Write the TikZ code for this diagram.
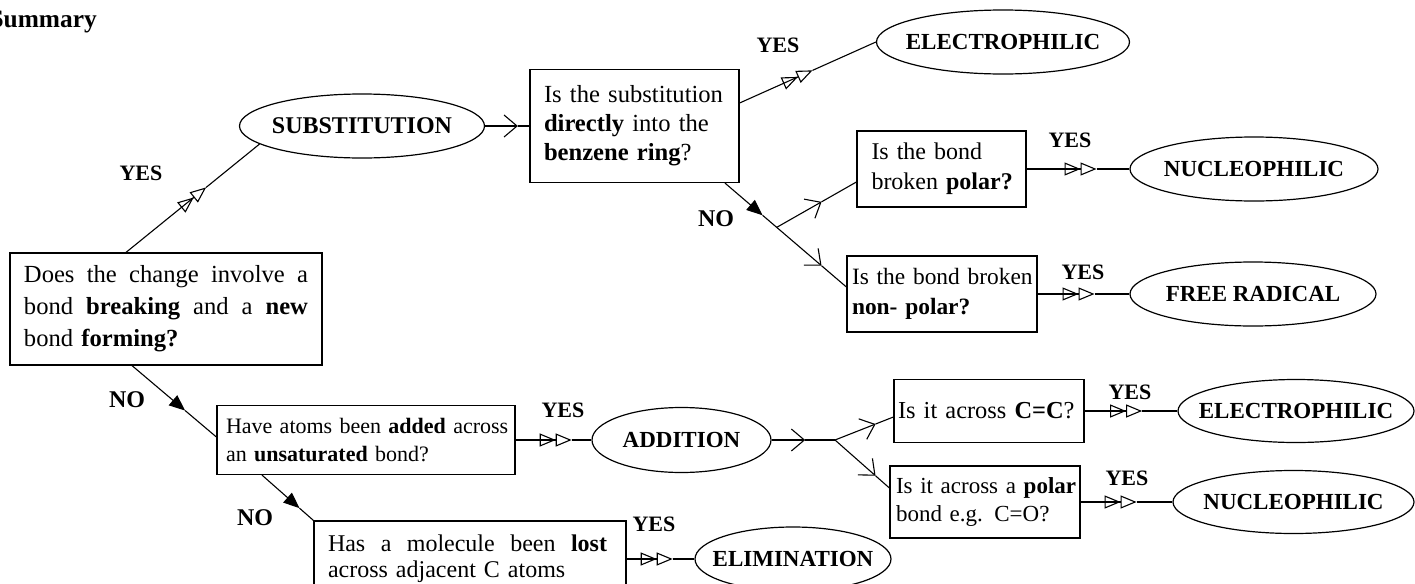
\documentclass[tikz,border=0pt]{standalone}
\usepackage{fontspec}
\setmainfont{Liberation Serif}
\usetikzlibrary{arrows.meta,shapes.geometric}
\newcommand{\fullline}[2]{\leavevmode\hbox to #1{#2}}
\begin{document}
\begin{tikzpicture}[x=0.5pt,y=-0.5pt,line width=0.55pt]
\tikzset{
  qbox/.style={draw,rectangle,line width=0.6pt,align=left,inner ysep=0pt},
  oval/.style={draw,ellipse,inner sep=0pt,line width=0.6pt,font=\bfseries\fontsize{11.5}{13}\selectfont},
  lbl/.style={inner sep=0pt,font=\bfseries\fontsize{11}{13}\selectfont},
  nolbl/.style={inner sep=0pt,font=\bfseries\fontsize{12}{13}\selectfont},
  dbl/.style={-{Triangle[open,length=8pt,width=6.5pt]Triangle[open,length=8pt,width=6.5pt]}},
  vee/.style={-{Straight Barb[length=6.5pt,width=11pt]}},
  blk/.style={-{Triangle[length=8pt,width=6.5pt]}}
}
\useasboundingbox (0,0) rectangle (1415,584);

\node[anchor=base west,inner sep=0pt,font=\bfseries\fontsize{12.7}{15}\selectfont] (title) at (-11,27) {Summary};

% question boxes
\node[qbox,minimum width=156pt,minimum height=56pt,text width=142pt,inner xsep=7pt,font=\fontsize{12.3}{16}\selectfont] (b1) at (166,309)
  {\fullline{142pt}{Does\hfill the\hfill change\hfill involve\hfill a}\\\fullline{142pt}{bond\hfill \textbf{breaking}\hfill and\hfill a\hfill \textbf{new}}\\\mbox{bond \textbf{forming?}}};
\node[qbox,minimum width=104.5pt,minimum height=56.5pt,text width=90.5pt,inner xsep=7pt,font=\fontsize{12.3}{14.5}\selectfont] (b2) at (634.5,126)
  {\mbox{Is the substitution}\\\mbox{\textbf{directly} into the}\\\mbox{\textbf{benzene ring}?}};
\node[qbox,minimum width=84.5pt,minimum height=38pt,text width=70pt,inner xsep=7.25pt,font=\fontsize{12}{15}\selectfont] (b3) at (941.5,169)
  {\mbox{Is the bond}\\\mbox{broken \textbf{polar?}}};
\node[qbox,minimum width=95pt,minimum height=38pt,text width=90pt,inner xsep=2.5pt,font=\fontsize{11.7}{15}\selectfont] (b4) at (942,294)
  {\mbox{Is the bond broken}\\\mbox{\textbf{non- polar?}}};
\node[qbox,minimum width=149pt,minimum height=34.5pt,text width=140pt,inner xsep=4.5pt,font=\fontsize{11}{14}\selectfont] (b5) at (366,440)
  {\mbox{Have atoms been \textbf{added} across}\\\mbox{an \textbf{unsaturated} bond?}};
\node[qbox,minimum width=156pt,minimum height=38pt,text width=142pt,inner xsep=7pt,font=\fontsize{12}{13}\selectfont] (b6) at (470,559)
  {\fullline{139.5pt}{Has\hfill a\hfill molecule\hfill been\hfill \textbf{lost}}\\\mbox{across adjacent C atoms}};
\node[qbox,minimum width=95pt,minimum height=31.5pt,text width=91pt,inner xsep=2pt,font=\fontsize{12.2}{14}\selectfont] (b7) at (989,411)
  {\mbox{Is it across \textbf{C=C}?}};
\node[qbox,minimum width=95pt,minimum height=36pt,text width=89pt,inner xsep=3pt,font=\fontsize{11.5}{14}\selectfont] (b8) at (985,502)
  {\mbox{Is it across a \textbf{polar}}\\\mbox{bond e.g. C=O?}};

% result ovals
\node[oval,minimum width=122.5pt,minimum height=32pt,font=\bfseries\fontsize{12}{13}\selectfont] (eSub) at (362,126) {\makebox[0pt]{SUBSTITUTION}};
\node[oval,minimum width=126.5pt,minimum height=32pt] (eElecT) at (1003,42) {\makebox[0pt]{ELECTROPHILIC}};
\node[oval,minimum width=124pt,minimum height=32pt] (eNuc) at (1254,169) {\makebox[0pt]{NUCLEOPHILIC}};
\node[oval,minimum width=123pt,minimum height=32pt] (eFree) at (1253,294) {\makebox[0pt]{FREE RADICAL}};
\node[oval,minimum width=89.5pt,minimum height=32.5pt] (eAdd) at (681.5,440) {\makebox[0pt]{ADDITION}};
\node[oval,minimum width=118pt,minimum height=31.5pt] (eElecB) at (1296,411) {\makebox[0pt]{ELECTROPHILIC}};
\node[oval,minimum width=120.5pt,minimum height=31.5pt] (eNucB) at (1293.5,502) {\makebox[0pt]{NUCLEOPHILIC}};
\node[oval,minimum width=98pt,minimum height=32pt] (eElim) at (793,559) {\makebox[0pt]{ELIMINATION}};

% labels
\node[lbl] (y1) at (141,173) {YES};
\node[lbl] (y2) at (778,45) {YES};
\node[lbl] (y3) at (1070,140) {YES};
\node[lbl] (y4) at (1083,272) {YES};
\node[lbl] (y5) at (563,410) {YES};
\node[lbl] (y6) at (1130,392) {YES};
\node[lbl] (y7) at (1127,478) {YES};
\node[lbl] (y8) at (654,524) {YES};
\node[nolbl] (n1l) at (127,400) {NO};
\node[nolbl] (n2l) at (716,219) {NO};
\node[nolbl] (n3l) at (255,518) {NO};

% b1 -> substitution
\path ([xshift=-20pt]b1.north) -- (eSub.190) coordinate[pos=0.6] (m1);
\draw[dbl] ([xshift=-20pt]b1.north) -- (m1);
\draw (m1) -- (eSub.190);
% substitution -> b2
\path (eSub.east) -- (b2.west) coordinate[pos=0.74] (m2);
\draw[vee] (eSub.east) -- (m2);
\draw (m2) -- (b2.west);
% b2 -> electrophilic
\path ([yshift=11.5pt]b2.east) -- (eElecT.west) coordinate[pos=0.535] (m3);
\draw[dbl] ([yshift=11.5pt]b2.east) -- (m3);
\draw (m3) -- (eElecT.west);
% b2 -> NO -> b3 / b4
\path ([xshift=45.25pt]b2.south) -- ([yshift=3.5pt]b4.west)
  coordinate[pos=0.31] (k1) coordinate[pos=0.426] (br1) coordinate[pos=0.795] (k2);
\draw[blk] ([xshift=45.25pt]b2.south) -- (k1);
\draw[vee] (k1) -- (k2);
\draw (k2) -- ([yshift=3.5pt]b4.west);
\path (br1) -- ([yshift=-6.5pt]b3.west) coordinate[pos=0.5625] (k3);
\draw[vee] (br1) -- (k3);
\draw (k3) -- ([yshift=-6.5pt]b3.west);
% b3 -> nucleophilic
\path (b3.east) -- (eNuc.west) coordinate[pos=0.68] (m4);
\draw[dbl] (b3.east) -- (m4);
\draw (m4) -- (eNuc.west);
% b4 -> free radical
\path (b4.east) -- (eFree.west) coordinate[pos=0.62] (m5);
\draw[dbl] (b4.east) -- (m5);
\draw (m5) -- (eFree.west);
% b1 -> NO -> b5
\path ([xshift=-17pt]b1.south) -- ([yshift=1.5pt]b5.west) coordinate[pos=0.63] (m6);
\draw[blk] ([xshift=-17pt]b1.south) -- (m6);
\draw (m6) -- ([yshift=1.5pt]b5.west);
% b5 -> addition
\path (b5.east) -- (eAdd.west) coordinate[pos=0.74] (m7);
\draw[dbl] (b5.east) -- (m7);
\draw (m7) -- (eAdd.west);
% b5 -> NO -> b6
\path ([xshift=-52pt]b5.south) -- (b6.north west) coordinate[pos=0.73] (m8);
\draw[blk] ([xshift=-52pt]b5.south) -- (m8);
\draw (m8) -- (b6.north west);
% b6 -> elimination
\path (b6.east) -- (eElim.west) coordinate[pos=0.68] (m9);
\draw[dbl] (b6.east) -- (m9);
\draw (m9) -- (eElim.west);
% addition -> branch -> b7 / b8
\coordinate (br2) at (835,440);
\path (eAdd.east) -- (br2) coordinate[pos=0.53] (k4);
\draw[vee] (eAdd.east) -- (k4);
\draw (k4) -- (br2);
\path (br2) -- ([yshift=-3pt]b7.west) coordinate[pos=0.695] (k5);
\draw[vee] (br2) -- (k5);
\draw (k5) -- ([yshift=-3pt]b7.west);
\path (br2) -- ([yshift=7pt]b8.west) coordinate[pos=0.745] (k6);
\draw[vee] (br2) -- (k6);
\draw (k6) -- ([yshift=7pt]b8.west);
% b7 -> electrophilic
\path (b7.east) -- (eElecB.west) coordinate[pos=0.62] (m10);
\draw[dbl] (b7.east) -- (m10);
\draw (m10) -- (eElecB.west);
% b8 -> nucleophilic
\path (b8.east) -- (eNucB.west) coordinate[pos=0.61] (m11);
\draw[dbl] (b8.east) -- (m11);
\draw (m11) -- (eNucB.west);
\end{tikzpicture}
\end{document}
